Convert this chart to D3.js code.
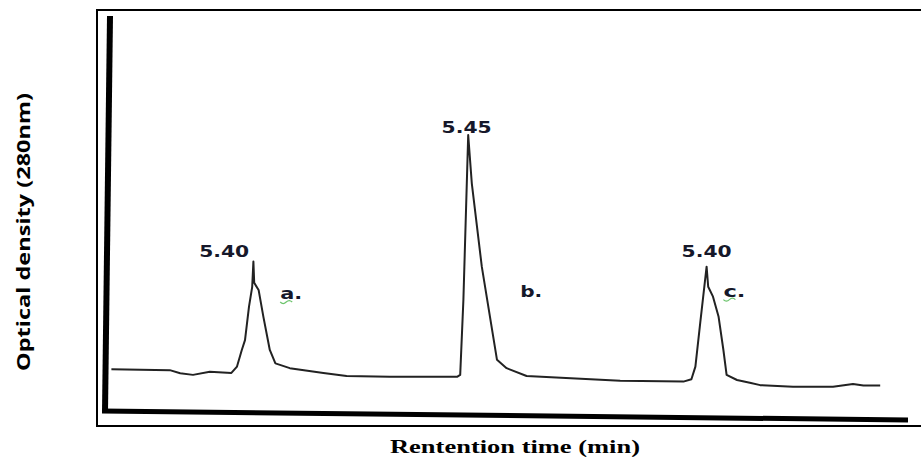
<!DOCTYPE html>
<html>
<head>
<meta charset="utf-8">
<script src="https://cdn.jsdelivr.net/npm/d3@7"></script>
<style>
  body { margin: 0; background: #fff; }
</style>
</head>
<body>
<div id="chart"></div>
<script>
// trace (time in arbitrary units 0-100, signal 0-100)
const times = [0.8, 8.1, 9.4, 11.0, 13.1, 15.8, 16.5, 17.1, 17.5, 18.0, 18.4, 18.55,
  18.65, 19.2, 19.8, 20.6, 21.3, 23.1, 27.3, 30.2, 35.6, 44.0, 44.4, 44.8, 45.4,
  45.85, 47.1, 49.0, 50.2, 52.7, 64.4, 72.3, 73.3, 73.8, 74.4, 75.2, 75.4, 76.0,
  76.7, 77.3, 77.7, 79.0, 80.6, 81.9, 86.0, 91.0, 93.5, 94.8, 96.9];
const signal = [10.8, 10.6, 9.8, 9.4, 10.2, 9.9, 11.5, 15.7, 18.2, 26.7, 31.7, 38.1,
  32.7, 30.9, 24.1, 15.7, 12.3, 11.1, 9.9, 9.1, 8.9, 8.9, 9.4, 28.4, 70.1,
  57.9, 36.8, 13.2, 11.1, 9.1, 7.9, 7.7, 8.3, 11.5, 22.5, 36.8, 31.7, 29.2,
  24.1, 15.7, 9.4, 8.1, 7.4, 6.8, 6.4, 6.4, 7.1, 6.7, 6.7];

// peak labels
const peakLabels = ["5.40", "5.45", "5.40"];
const peakLabelT = [14.9, 45.2, 75.2];
const peakLabelV = [39.2, 70.6, 39.3];

// sample letters
const sampleLabels = ["a.", "b.", "c."];
const sampleT = [21.9, 51.9, 77.3];
const sampleV = [28.6, 29.2, 29.2];
const squiggle = [true, false, true];

const data = times.map((t, i) => ({ t: t, v: signal[i] }));

const svgWidth = 921;
const svgHeight = 463;

const svg = d3.select("#chart")
    .append("svg")
    .attr("width", svgWidth)
    .attr("height", svgHeight);

const xScale = d3.scaleLinear().domain([0, 100]).range([105, 905]);
const yScale = d3.scaleLinear().domain([0, 100]).range([412, 17]);

// outer frame
svg.append("rect")
    .attr("x", 97)
    .attr("y", 10)
    .attr("width", 840)
    .attr("height", 416)
    .attr("fill", "none")
    .attr("stroke", "#000")
    .attr("stroke-width", 2);

// thick hand-drawn axes
const x0 = xScale.range()[0];
const y0 = yScale.range()[0];
svg.append("line")
    .attr("x1", x0 + 5).attr("y1", yScale.range()[1] - 1)
    .attr("x2", x0).attr("y2", y0)
    .attr("stroke", "#000")
    .attr("stroke-width", 6);
svg.append("line")
    .attr("x1", x0 - 3).attr("y1", y0 - 1)
    .attr("x2", xScale.range()[1] + 3).attr("y2", y0 + 8)
    .attr("stroke", "#000")
    .attr("stroke-width", 5);

// trace
const line = d3.line()
    .x(d => xScale(d.t))
    .y(d => yScale(d.v));

svg.append("path")
    .datum(data)
    .attr("d", line)
    .attr("fill", "none")
    .attr("stroke", "#222")
    .attr("stroke-width", 2)
    .attr("stroke-linejoin", "round");

// peak values
svg.selectAll(".peak")
    .data(peakLabels)
    .enter().append("text")
    .attr("class", "peak")
    .attr("x", (d, i) => xScale(peakLabelT[i]))
    .attr("y", (d, i) => yScale(peakLabelV[i]))
    .attr("text-anchor", "middle")
    .attr("textLength", 50)
    .attr("lengthAdjust", "spacingAndGlyphs")
    .style("font-family", "'DejaVu Sans', sans-serif")
    .style("font-weight", "bold")
    .style("font-size", "15px")
    .attr("fill", "#16182a")
    .text(d => d);

// sample letters
svg.selectAll(".sample")
    .data(sampleLabels)
    .enter().append("text")
    .attr("class", "sample")
    .attr("x", (d, i) => xScale(sampleT[i]))
    .attr("y", (d, i) => yScale(sampleV[i]))
    .attr("textLength", 22)
    .attr("lengthAdjust", "spacingAndGlyphs")
    .style("font-family", "'DejaVu Sans', sans-serif")
    .style("font-weight", "bold")
    .style("font-size", "15px")
    .attr("fill", "#16182a")
    .text(d => d);

// spell-check squiggles under a. and c.
svg.selectAll(".squiggle")
    .data(sampleLabels.filter((d, i) => squiggle[i]))
    .enter().append("path")
    .attr("class", "squiggle")
    .attr("d", d => {
        const i = sampleLabels.indexOf(d);
        const sx = xScale(sampleT[i]);
        const sy = yScale(sampleV[i]) + 3;
        return "M" + sx + "," + sy + " q3,3 6,0 q3,-3 6,0";
    })
    .attr("fill", "none")
    .attr("stroke", "#6cc46c")
    .attr("stroke-width", 1.2);

// axis titles
svg.append("text")
    .attr("transform", "translate(30,232) rotate(-90)")
    .attr("text-anchor", "middle")
    .attr("textLength", 278)
    .attr("lengthAdjust", "spacingAndGlyphs")
    .style("font-family", "'Open Sans', sans-serif")
    .style("font-weight", "bold")
    .style("font-size", "18px")
    .attr("fill", "#000")
    .text("Optical density (280nm)");

svg.append("text")
    .attr("x", 515)
    .attr("y", 453)
    .attr("text-anchor", "middle")
    .attr("textLength", 250)
    .attr("lengthAdjust", "spacingAndGlyphs")
    .style("font-family", "'Liberation Serif', 'Times New Roman', serif")
    .style("font-weight", "bold")
    .style("font-size", "18px")
    .attr("fill", "#000")
    .text("Rentention time (min)");
</script>
</body>
</html>
